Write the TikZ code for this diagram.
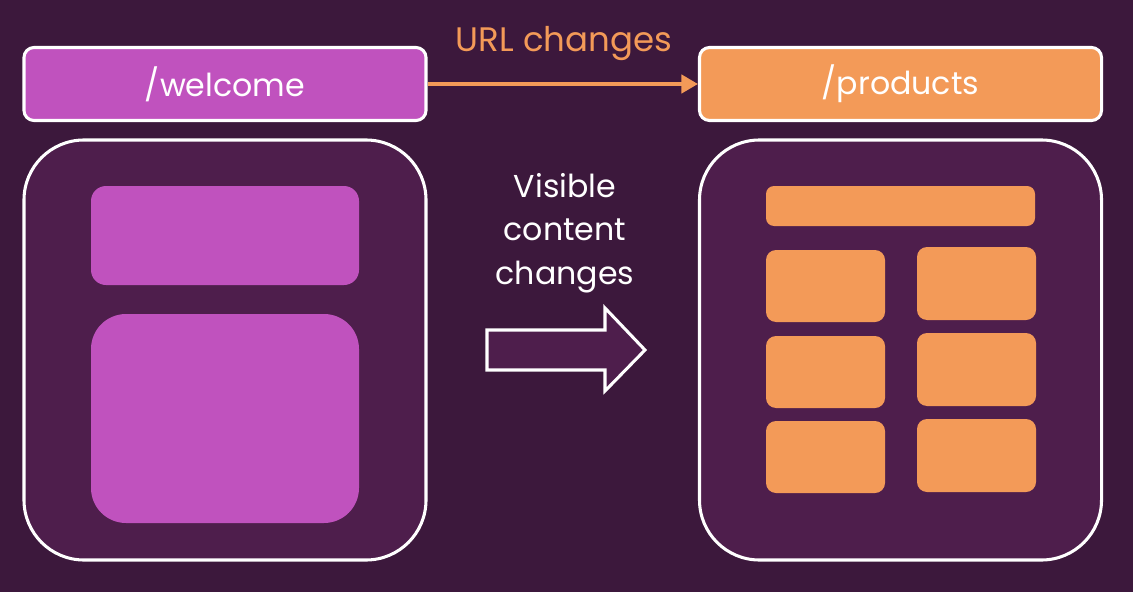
\documentclass[tikz,border=0pt]{standalone}
\usepackage{fontspec}
\setmainfont{Poppins}
\usepackage{xcolor}
\usetikzlibrary{positioning,arrows.meta}

\definecolor{bgdark}{HTML}{3C183C}
\definecolor{pagefill}{HTML}{4E1E4C}
\definecolor{pinkish}{HTML}{C052BE}
\definecolor{orangish}{HTML}{F39A58}

\begin{document}
\begin{tikzpicture}[
    x=0.03cm, y=-0.03cm,
    urlbar/.style={draw=white, line width=2.6pt, rectangle, rounded corners=0.3cm, minimum width=12.06cm, minimum height=2.19cm, text=white, font=\fontsize{27}{32}\selectfont},
    page/.style={draw=white, line width=2.6pt, rectangle, rounded corners=1.8cm, fill=pagefill, minimum width=12.06cm, minimum height=12.6cm},
    label/.style={font=\fontsize{27}{37}\selectfont, align=center},
    line/.style={-{Triangle[length=0.5cm, width=0.55cm]}, line width=3.2pt, draw=orangish}
]

% Background
\fill[bgdark] (0,0) rectangle (1133,592);
\useasboundingbox (0,0) rectangle (1133,592);

% Top row: url bars
\node[urlbar, fill=pinkish] (welcome) at (225,84) {/welcome};
\node[urlbar, fill=orangish] (products) at (900.5,84) {/products};
\node[label, text=orangish, font=\fontsize{29}{37}\selectfont] (urltext) at (564,44) {URL changes};
\draw[line] (welcome) -- (products);

% Pages
\node[page] (leftpage) at (225,350) {};
\node[page] (rightpage) at (900.5,350) {};

% Welcome page content
\fill[pinkish, rounded corners=0.45cm] (91,186) rectangle (359,285);
\fill[pinkish, rounded corners=1.05cm] (91,314) rectangle (359,523);

% Products page content
\fill[orangish, rounded corners=0.24cm] (766,186) rectangle (1035,226);
\foreach \ytop in {250,336,421} {
    \fill[orangish, rounded corners=0.3cm] (766,\ytop) rectangle (885,\ytop+72);
}
\foreach \ytop in {247,333,419} {
    \fill[orangish, rounded corners=0.3cm] (917,\ytop) rectangle (1036,\ytop+73);
}

% Middle: content change
\node[label, text=white] (visible) at (565,233) {Visible\\content\\changes};
\draw[white, line width=2.6pt, fill=pagefill, line join=miter]
    (487,330) -- (605,330) -- (605,308) -- (645,350) -- (605,391) -- (605,370) -- (487,370) -- cycle;

\end{tikzpicture}
\end{document}
